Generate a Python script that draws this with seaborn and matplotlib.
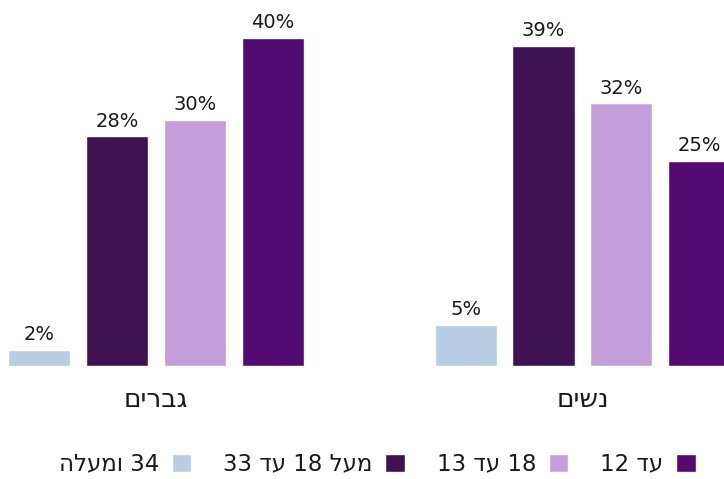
import pandas as pd
import matplotlib
matplotlib.use('Agg')
import matplotlib.pyplot as plt
import seaborn as sns

# Data (logical Hebrew order)
groups = ['גברים', 'נשים']
ages = ['34 ומעלה', 'מעל 18 עד 33', '18 עד 13', 'עד 12']
men = [2, 28, 30, 40]
women = [5, 39, 32, 25]
colors = ['#b7cee5', '#3e1150', '#c49ed8', '#520b70']


def visual(text):
    """Crude bidi: reverse word order, reverse letters of Hebrew words"""
    out = []
    for tok in reversed(text.split(' ')):
        out.append(tok if tok.isdigit() else tok[::-1])
    return ' '.join(out)


rows = []
for g, vals in zip(groups, [men, women]):
    for a, v in zip(ages, vals):
        rows.append({'group': visual(g), 'age': visual(a), 'value': v})
df = pd.DataFrame(rows)

sns.set_style('white')
plt.rcParams['font.family'] = ['DejaVu Sans']

fig = plt.figure(figsize=(7.24, 4.79), dpi=100)
ax = fig.add_axes([0, 0.236, 1, 0.764])

sns.barplot(data=df, x='group', y='value', hue='age',
            palette=colors, saturation=1, width=0.73, gap=0.2, ax=ax)

for c in ax.containers:
    ax.bar_label(c, fmt='%d%%', padding=4, fontsize=14, color='#1a1a1a')

ax.set_xlim(-0.366, 1.332)
ax.set_ylim(0, 44.6)
ax.set_xlabel('')
ax.set_ylabel('')
ax.set_yticks([])
ax.tick_params(axis='x', length=0, pad=15, labelsize=19, labelcolor='#1a1a1a')
sns.despine(ax=ax, left=True, bottom=True)

handles, labels = ax.get_legend_handles_labels()
ax.get_legend().remove()
fig.legend(handles, labels, loc='center', bbox_to_anchor=(0.521, 0.031),
           ncol=4, frameon=False, markerfirst=False, fontsize=16.5,
           handlelength=0.85, handleheight=0.85, handletextpad=0.55,
           columnspacing=1.4, labelcolor='#1a1a1a')

fig.savefig('out.png', dpi=100)
